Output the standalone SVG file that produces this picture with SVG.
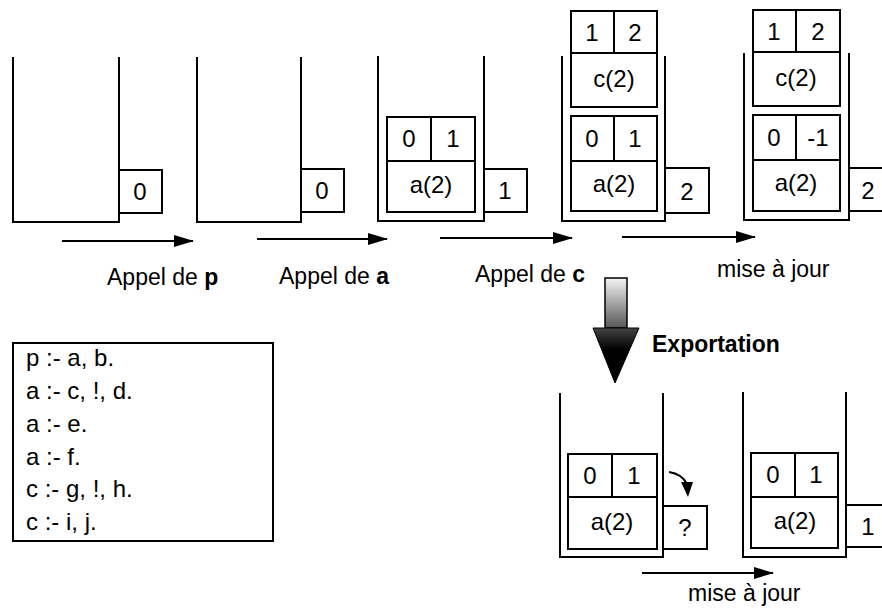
<svg xmlns="http://www.w3.org/2000/svg" width="882" height="609" viewBox="0 0 882 609">
<style>
.w{fill:none;stroke:#000;stroke-width:2}
.b{fill:#fff;stroke:#000;stroke-width:2}
.l{fill:none;stroke:#000;stroke-width:2}
.t{font-family:"Liberation Sans",Arial,sans-serif;font-size:24px;fill:#000;text-anchor:middle}
.s{font-family:"Liberation Sans",Arial,sans-serif;font-size:23px;fill:#000}
.c{font-family:"Liberation Sans",Arial,sans-serif;font-size:24px;fill:#000}
.bd{font-weight:bold}
</style>
<defs>
<marker id="ah" markerWidth="20" markerHeight="12" refX="19" refY="6" orient="auto" markerUnits="userSpaceOnUse">
<path d="M0,0 L20,6 L0,12 Z" fill="#000"/>
</marker>
<linearGradient id="g1" x1="0" y1="0" x2="0" y2="1">
<stop offset="0" stop-color="#f4f4f4"/>
<stop offset="1" stop-color="#555"/>
</linearGradient>
<linearGradient id="g2" x1="0" y1="0" x2="0" y2="1">
<stop offset="0" stop-color="#444"/>
<stop offset="0.4" stop-color="#000"/>
<stop offset="1" stop-color="#000"/>
</linearGradient>
</defs>

<g id="stack1">
<path class="w" d="M13,57 V222 H119 V57"/>
<rect class="b" x="119" y="170" width="43" height="43"/>
<text class="t" x="140" y="200">0</text>
</g>

<g id="stack2">
<path class="w" d="M197,57 V222 H301 V57"/>
<rect class="b" x="301" y="169" width="43" height="43"/>
<text class="t" x="322" y="199">0</text>
</g>

<g id="stack3">
<path class="w" d="M378,56 V221 H484 V56"/>
<rect class="b" x="387" y="117" width="88" height="95"/>
<path class="l" d="M387,161 H475 M431,117 V161"/>
<text class="t" x="409" y="147">0</text>
<text class="t" x="453" y="147">1</text>
<text class="t" x="431" y="193">a(2)</text>
<rect class="b" x="484" y="169" width="43" height="43"/>
<text class="t" x="505" y="199">1</text>
</g>

<g id="stack4">
<path class="w" d="M562,56 V221 H665 V56"/>
<rect class="b" x="571" y="11" width="86" height="96"/>
<path class="l" d="M571,53 H657 M614,11 V53"/>
<text class="t" x="592" y="41">1</text>
<text class="t" x="635" y="41">2</text>
<text class="t" x="614" y="87">c(2)</text>
<rect class="b" x="571" y="116" width="86" height="95"/>
<path class="l" d="M571,161 H657 M614,116 V161"/>
<text class="t" x="592" y="147">0</text>
<text class="t" x="635" y="147">1</text>
<text class="t" x="614" y="192">a(2)</text>
<rect class="b" x="665" y="168" width="44" height="45"/>
<text class="t" x="687" y="200">2</text>
</g>

<g id="stack5">
<path class="w" d="M744,53 V220 H849 V53"/>
<rect class="b" x="753" y="10" width="87" height="96"/>
<path class="l" d="M753,52 H840 M796,10 V52"/>
<text class="t" x="774" y="40">1</text>
<text class="t" x="818" y="40">2</text>
<text class="t" x="796" y="86">c(2)</text>
<rect class="b" x="753" y="115" width="87" height="96"/>
<path class="l" d="M753,160 H840 M796,115 V160"/>
<text class="t" x="774" y="146">0</text>
<text class="t" x="818" y="146">-1</text>
<text class="t" x="796" y="191">a(2)</text>
<rect class="b" x="849" y="168" width="45" height="43"/>
<text class="t" x="868" y="199">2</text>
</g>

<g id="stack6">
<path class="w" d="M560,393 V557 H663 V393"/>
<rect class="b" x="568" y="454" width="89" height="95"/>
<path class="l" d="M568,497 H657 M612,454 V497"/>
<text class="t" x="590" y="484">0</text>
<text class="t" x="634" y="484">1</text>
<text class="t" x="612" y="530">a(2)</text>
<rect class="b" x="663" y="506" width="44" height="43"/>
<text class="t" x="685" y="536">?</text>
</g>

<g id="stack7">
<path class="w" d="M743,392 V557 H846 V392"/>
<rect class="b" x="751" y="453" width="87" height="95"/>
<path class="l" d="M751,497 H838 M795,453 V497"/>
<text class="t" x="773" y="483">0</text>
<text class="t" x="816" y="483">1</text>
<text class="t" x="795" y="529">a(2)</text>
<rect class="b" x="846" y="505" width="45" height="42"/>
<text class="t" x="868" y="535">1</text>
</g>

<g id="code">
<rect class="b" x="13" y="343" width="260" height="198"/>
<text class="c" x="26" y="366">p :- a, b.</text>
<text class="c" x="26" y="399">a :- c, !, d.</text>
<text class="c" x="26" y="432">a :- e.</text>
<text class="c" x="26" y="465">a :- f.</text>
<text class="c" x="26" y="497">c :- g, !, h.</text>
<text class="c" x="26" y="530">c :- i, j.</text>
</g>

<g id="export">
<rect x="605" y="278" width="22" height="50" fill="url(#g1)" stroke="#000" stroke-width="1.5"/>
<path d="M593,328 H639 L615,383 Z" fill="url(#g2)" stroke="#000" stroke-width="1"/>
<text class="s bd" x="652" y="352">Exportation</text>
</g>

<g id="connectors">
<path class="l" d="M62,241 H193" marker-end="url(#ah)"/>
<path class="l" d="M257,239 H387" marker-end="url(#ah)"/>
<path class="l" d="M440,238 H572" marker-end="url(#ah)"/>
<path class="l" d="M622,237 H755" marker-end="url(#ah)"/>
<path class="l" d="M642,573 H773" marker-end="url(#ah)"/>
<path class="l" d="M669,472 Q682,474 687,484"/>
<path d="M681,482 L693,482 L688,497 Z" fill="#000"/>
</g>

<g id="labels">
<text class="s" x="107" y="285">Appel de <tspan class="bd">p</tspan></text>
<text class="s" x="279" y="284">Appel de <tspan class="bd">a</tspan></text>
<text class="s" x="475" y="282">Appel de <tspan class="bd">c</tspan></text>
<text class="s" x="717" y="277">mise à jour</text>
<text class="s" x="688" y="601">mise à jour</text>
</g>
</svg>
